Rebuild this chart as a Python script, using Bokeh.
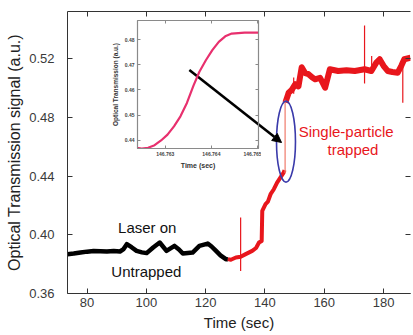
from bokeh.plotting import figure
from bokeh.models import (LinearAxis, FixedTicker, PrintfTickFormatter, Range1d,
                          Arrow, NormalHead, Label)
from bokeh.layouts import column
from bokeh.embed import file_html
from bokeh.resources import INLINE

# ---------------- data ----------------
time_untrapped = [73.4, 75.5, 77.8, 80.0, 82.2, 84.5, 86.7, 89.0, 91.1, 92.2, 93.4, 95.0,
                  96.7, 98.5, 100.1, 102.3, 104.5, 106.8, 108.0, 109.5, 111.0, 112.3,
                  114.0, 115.6, 117.9, 120.7, 122.0, 123.5, 125.0, 126.8, 127.5]
signal_untrapped = [0.3868, 0.3872, 0.3879, 0.3885, 0.3890, 0.3888, 0.3886, 0.3890, 0.3886,
                    0.3900, 0.3936, 0.3915, 0.3890, 0.3880, 0.3875, 0.3913, 0.3947, 0.3890,
                    0.3905, 0.3924, 0.3900, 0.3872, 0.3876, 0.3879, 0.3924, 0.3940, 0.3920,
                    0.3890, 0.3860, 0.3834, 0.3834]

time_rising = [127.5, 128.5, 130.2, 131.8, 133.5, 135.7, 137.0, 138.0, 138.9, 139.1, 140.2,
               141.0, 141.9, 143.0, 144.1, 145.2, 146.3, 146.6]
signal_rising = [0.3834, 0.3830, 0.3845, 0.3850, 0.3868, 0.3890, 0.3910, 0.3947, 0.3958,
                 0.4163, 0.4208, 0.4225, 0.4276, 0.4310, 0.4355, 0.4389, 0.4423, 0.4440]

time_plateau = [146.9, 147.4, 148.0, 149.0, 150.2, 151.3, 152.4, 153.6, 154.7, 156.0, 156.9,
                158.6, 160.3, 161.9, 164.7, 167.5, 170.3, 173.6, 175.9, 177.5, 178.7, 180.0,
                181.4, 183.0, 184.8, 186.0, 187.0, 189.1]
signal_plateau = [0.4900, 0.4930, 0.4967, 0.4985, 0.5025, 0.5010, 0.5140, 0.5100, 0.5093,
                  0.5070, 0.5058, 0.5069, 0.5001, 0.5127, 0.5115, 0.5120, 0.5115, 0.5127,
                  0.5115, 0.5170, 0.5195, 0.5150, 0.5115, 0.5108, 0.5103, 0.5150, 0.5195,
                  0.5205]

spike_time = [131.8, 149.7, 173.6, 176.0, 186.5]
spike_low = [0.3754, 0.4960, 0.5029, 0.5100, 0.4899]
spike_high = [0.4117, 0.5070, 0.5425, 0.5217, 0.5150]

jump_time = [146.8]
jump_low = [0.4420]
jump_high = [0.4920]

inset_time = [146.76238, 146.76249, 146.76263, 146.76277, 146.76291, 146.76305, 146.76319,
              146.76333, 146.76347, 146.76361, 146.76374, 146.76388, 146.76402, 146.76416,
              146.76430, 146.76444, 146.76458, 146.76472, 146.76501]
inset_signal = [0.4370, 0.4367, 0.4370, 0.4380, 0.4399, 0.4422, 0.4455, 0.4495, 0.4548,
                0.4616, 0.4672, 0.4718, 0.4758, 0.4791, 0.4813, 0.4824, 0.4826, 0.4828,
                0.4828]

x_ticks = [80, 100, 120, 140, 160, 180]
y_ticks = [0.36, 0.40, 0.44, 0.48, 0.52]
inset_x_ticks = [146.763, 146.764, 146.765]
inset_y_ticks = [0.44, 0.45, 0.46, 0.47, 0.48]

FONT = "Liberation Sans"
AXIS_COLOR = "#333333"
RED = "#e8161c"


def tick_only_axis(ticks, length, color, line_color):
    return LinearAxis(ticker=FixedTicker(ticks=ticks), major_tick_in=length,
                      major_tick_out=0, minor_tick_line_color=None,
                      major_label_text_color=None, major_label_text_alpha=0,
                      major_label_text_font_size="1px", major_label_standoff=0,
                      axis_line_color=line_color, major_tick_line_color=color)


# ---------------- main figure ----------------
p = figure(width=413, height=335, output_backend="svg", toolbar_location=None,
           x_range=Range1d(73.4, 189.1), y_range=Range1d(0.36, 0.552),
           min_border_left=67, min_border_right=0, min_border_top=11,
           min_border_bottom=42, x_axis_label="Time (sec)",
           y_axis_label="Optical Transmission signal (a.u.)")
p.outline_line_color = None
p.grid.visible = False
p.background_fill_color = "white"
p.border_fill_color = "white"

for ax in (p.xaxis[0], p.yaxis[0]):
    ax.major_tick_in = 5
    ax.major_tick_out = 0
    ax.minor_tick_line_color = None
    ax.axis_line_color = AXIS_COLOR
    ax.major_tick_line_color = AXIS_COLOR
    ax.major_label_text_font = FONT
    ax.major_label_text_font_size = "13px"
    ax.major_label_text_color = "#3a3a3a"
    ax.axis_label_text_font = FONT
    ax.axis_label_text_font_style = "normal"
    ax.axis_label_text_color = "#222222"

p.xaxis[0].ticker = FixedTicker(ticks=x_ticks)
p.xaxis[0].major_label_standoff = 4
p.xaxis[0].axis_label_standoff = 4
p.xaxis[0].axis_label_text_font_size = "15px"
p.yaxis[0].ticker = FixedTicker(ticks=y_ticks)
p.yaxis[0].formatter = PrintfTickFormatter(format="%.2f")
p.yaxis[0].major_label_standoff = 13
p.yaxis[0].axis_label_standoff = 3
p.yaxis[0].axis_label_text_font_size = "16px"

p.add_layout(tick_only_axis(x_ticks, 5, AXIS_COLOR, AXIS_COLOR), "above")
p.add_layout(tick_only_axis(y_ticks, 5, AXIS_COLOR, None), "right")

p.line(time_untrapped, signal_untrapped, line_color="black", line_width=4.5,
       line_join="round")
p.line(time_rising, signal_rising, line_color=RED, line_width=4, line_join="round")
p.line(time_plateau, signal_plateau, line_color=RED, line_width=6, line_join="round")
p.segment(x0=spike_time, y0=spike_low, x1=spike_time, y1=spike_high,
          line_color=RED, line_width=1.2)
p.segment(x0=jump_time, y0=jump_low, x1=jump_time, y1=jump_high,
          line_color="#f07a6a", line_width=1.2)

# ellipse marking the trapping event
p.ellipse(x=[147.1], y=[0.4634], width=6.4, height=0.0551,
          fill_color=None, line_color="#3a3aaa", line_width=1.6)

# arrow from inset to event
p.add_layout(Arrow(end=NormalHead(size=9, fill_color="black", line_color="black"),
                   x_start=114.5, y_start=0.5122, x_end=145.6, y_end=0.4628,
                   line_color="black", line_width=2.6))

for txt, x, y, col in [("Single-particle", 167.4, 0.4702, RED),
                       ("trapped", 169.7, 0.4578, RED),
                       ("Laser on", 100.3, 0.4049, "#111111"),
                       ("Untrapped", 100.0, 0.3750, "#111111")]:
    p.add_layout(Label(x=x, y=y, text=txt, text_font=FONT, text_font_size="15px",
                       text_color=col, text_align="center", text_baseline="middle"))

# ---------------- inset ----------------
inset = figure(width=191, height=153, output_backend="svg", toolbar_location=None,
               x_range=Range1d(146.7624, 146.76502), y_range=Range1d(0.4367, 0.4876),
               min_border_left=30, min_border_right=3, min_border_top=2,
               min_border_bottom=22, x_axis_label="Time (sec)",
               y_axis_label="Optical Transmission (a.u.)")
inset.styles = {"position": "absolute", "left": "70px", "top": "18px", "z-index": "5"}
inset.background_fill_alpha = 0
inset.border_fill_alpha = 0
inset.grid.visible = False
inset.outline_line_color = "#8a8a8a"
inset.outline_line_width = 1.2

INSET_AX = "#8a8a8a"
for ax in (inset.xaxis[0], inset.yaxis[0]):
    ax.major_tick_in = 3
    ax.major_tick_out = 0
    ax.minor_tick_line_color = None
    ax.axis_line_color = INSET_AX
    ax.major_tick_line_color = INSET_AX
    ax.major_label_text_font = FONT
    ax.major_label_text_font_size = "5px"
    ax.major_label_text_font_style = "bold"
    ax.major_label_text_color = "#444444"
    ax.major_label_standoff = 3
    ax.axis_label_text_font = FONT
    ax.axis_label_text_font_style = "bold"
    ax.axis_label_text_color = "#333333"
    ax.axis_label_standoff = 3
inset.xaxis[0].ticker = FixedTicker(ticks=inset_x_ticks)
inset.xaxis[0].formatter = PrintfTickFormatter(format="%.3f")
inset.xaxis[0].axis_label_text_font_size = "7px"
inset.yaxis[0].ticker = FixedTicker(ticks=inset_y_ticks)
inset.yaxis[0].formatter = PrintfTickFormatter(format="%.2f")
inset.yaxis[0].axis_label_text_font_size = "6.5px"

inset.add_layout(tick_only_axis(inset_x_ticks, 3, INSET_AX, None), "above")
inset.add_layout(tick_only_axis(inset_y_ticks, 3, INSET_AX, None), "right")

inset.line(inset_time, inset_signal, line_color="#e8306e", line_width=2.2)

layout = column(p, inset)
open("out.html", "w").write(file_html(layout, INLINE))
